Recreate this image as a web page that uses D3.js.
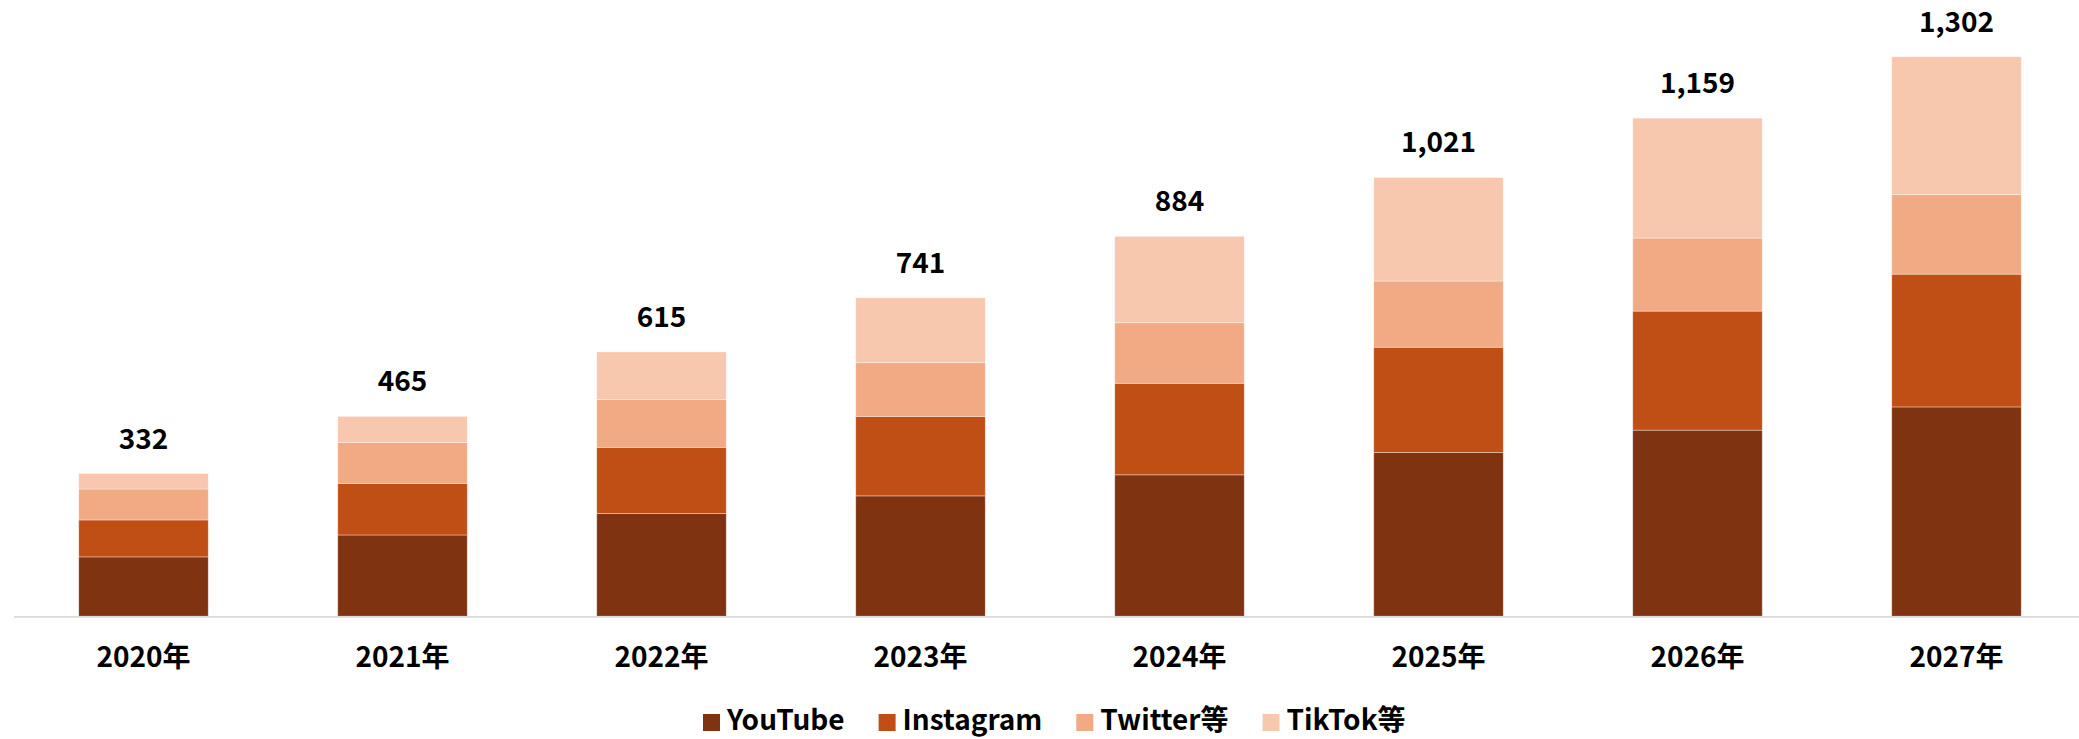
<!DOCTYPE html>
<html>
<head>
<meta charset="utf-8">
<script src="https://cdn.jsdelivr.net/npm/d3@7"></script>
<style>
  html, body { margin: 0; padding: 0; background: #ffffff; }
  svg { display: block; }
  text { font-family: "Noto Sans CJK JP", "Noto Sans", sans-serif; fill: #000; }
</style>
</head>
<body>
<svg id="chart" width="2079" height="739"></svg>
<script>
const categories = ["2020年", "2021年", "2022年", "2023年", "2024年", "2025年", "2026年", "2027年"];
const seriesNames = ["YouTube", "Instagram", "Twitter等", "TikTok等"];
const youtube   = [138, 189, 239, 280, 329, 381, 433, 487];
const instagram = [86, 120, 154, 185, 213, 245, 277, 309];
const twitter   = [72, 95, 111, 125, 141, 154, 170, 185];
const tiktok    = [36, 61, 111, 151, 201, 241, 279, 321];
const totalLabels = ["332", "465", "615", "741", "884", "1,021", "1,159", "1,302"];
const colors = ["#803310", "#BF4F15", "#F2AA84", "#F7C7AE"];

const seriesValues = [youtube, instagram, twitter, tiktok];
const table = categories.map((c, i) => {
  const row = { cat: c };
  seriesNames.forEach((s, k) => { row[s] = seriesValues[k][i]; });
  return row;
});

const svg = d3.select("#chart");

const x = d3.scaleBand()
  .domain(categories)
  .range([14, 2086])
  .paddingInner(0.5)
  .paddingOuter(0.25);

const y = d3.scaleLinear()
  .domain([0, 1400])
  .range([616.2, 14.6]);

const stacked = d3.stack().keys(seriesNames)(table);

const color = d3.scaleOrdinal().domain(seriesNames).range(colors);

svg.append("g")
  .selectAll("g")
  .data(stacked)
  .join("g")
  .attr("fill", d => color(d.key))
  .selectAll("rect")
  .data(d => d)
  .join("rect")
  .attr("x", d => x(d.data.cat))
  .attr("width", x.bandwidth())
  .attr("y", d => y(d[1]))
  .attr("height", d => y(d[0]) - y(d[1]))
  .attr("stroke", "#ffffff")
  .attr("stroke-opacity", 0.45)
  .attr("stroke-width", 0.8);

// baseline
svg.append("line")
  .attr("x1", 14).attr("x2", 2079)
  .attr("y1", y(0) + 0.7).attr("y2", y(0) + 0.7)
  .attr("stroke", "#d9d9d9")
  .attr("stroke-width", 1.6);

// category axis labels
const xAxis = d3.axisBottom(x).tickSize(0).tickPadding(0);
const axisG = svg.append("g")
  .attr("transform", `translate(0, ${y(0)})`)
  .call(xAxis);
axisG.select(".domain").remove();
axisG.selectAll("text")
  .attr("dy", null)
  .attr("y", 51)
  .attr("fill", "#000")
  .style("font-family", '"Noto Sans CJK JP", sans-serif')
  .style("font-size", "28px")
  .style("font-weight", "700");

// total labels
const totals = categories.map((c, i) => d3.sum(seriesValues, s => s[i]));
svg.append("g")
  .selectAll("text")
  .data(categories)
  .join("text")
  .attr("x", d => x(d) + x.bandwidth() / 2)
  .attr("y", (d, i) => y(totals[i]) - 25)
  .attr("text-anchor", "middle")
  .style("font-size", "28px")
  .style("font-weight", "700")
  .text((d, i) => totalLabels[i]);

// legend
const legend = svg.append("g");
let lx = 703;
const legendY = 730;
seriesNames.forEach((name, k) => {
  legend.append("rect")
    .attr("x", lx)
    .attr("y", legendY - 16)
    .attr("width", 17)
    .attr("height", 17)
    .attr("fill", colors[k]);
  const t = legend.append("text")
    .attr("x", lx + 24)
    .attr("y", legendY)
    .style("font-size", "28px")
    .style("font-weight", "700")
    .text(name);
  const w = t.node().getComputedTextLength();
  lx = lx + 24 + w + 34;
});
</script>
</body>
</html>
